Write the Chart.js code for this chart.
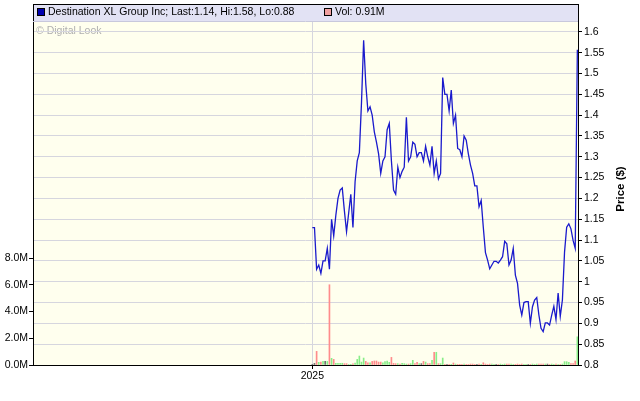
<!DOCTYPE html>
<html>
<head>
<meta charset="utf-8">
<script src="https://cdn.jsdelivr.net/npm/chart.js@4/dist/chart.umd.min.js"></script>
<style>
  html, body { margin: 0; padding: 0; background: #fff; }
  #wrap { width: 640px; height: 401px; }
</style>
</head>
<body>
<div id="wrap"><canvas id="grafico" width="640" height="401"></canvas></div>
<script>
// closing prices, one per trading day from the start of 2025
const precos = [
  1.13, 1.13, 1.03, 1.04, 1.02, 1.05, 1.05, 1.08, 1.03, 1.15,
  1.11, 1.16, 1.20, 1.22, 1.225, 1.17, 1.12, 1.165, 1.21, 1.13,
  1.24, 1.29, 1.31, 1.43, 1.58, 1.475, 1.41, 1.42, 1.40, 1.36,
  1.335, 1.307, 1.26, 1.29, 1.30, 1.365, 1.38, 1.29, 1.22, 1.21,
  1.275, 1.25, 1.265, 1.275, 1.395, 1.29, 1.30, 1.335, 1.33, 1.30,
  1.31, 1.31, 1.29, 1.325, 1.30, 1.28, 1.325, 1.26, 1.29, 1.247,
  1.26, 1.49, 1.45, 1.45, 1.41, 1.46, 1.38, 1.40, 1.32, 1.317,
  1.30, 1.35, 1.34, 1.307, 1.28, 1.26, 1.23, 1.23, 1.18, 1.195,
  1.13, 1.07, 1.052, 1.031, 1.04, 1.049, 1.049, 1.045, 1.052, 1.06,
  1.097, 1.091, 1.04, 1.052, 1.08, 1.016, 0.996, 0.944, 0.92, 0.95,
  0.952, 0.952, 0.90, 0.94, 0.956, 0.962, 0.92, 0.888, 0.88, 0.901,
  0.901, 0.896, 0.92, 0.941, 0.909, 0.973, 0.917, 0.956, 1.071, 1.131,
  1.139, 1.127, 1.099, 1.08, 1.557
];

// volume in millions of shares
const volumes = [
  0.05, 0.12, 1.02, 0.2, 0.22, 0.27, 0.27, 0.27, 6.0, 0.5,
  0.42, 0.13, 0.13, 0.13, 0.13, 0.1, 0.1, 0.03, 0.05, 0.08,
  0.15, 0.42, 0.67, 0.22, 0.52, 0.27, 0.17, 0.17, 0.27, 0.3,
  0.3, 0.22, 0.22, 0.17, 0.25, 0.3, 0.2, 0.57, 0.12, 0.1,
  0.1, 0.07, 0.12, 0.1, 0.07, 0.07, 0.1, 0.35, 0.1, 0.2,
  0.1, 0.1, 0.27, 0.22, 0.1, 0.1, 0.35, 0.95, 0.95, 0.1,
  0.1, 0.52, 0.03, 0.03, 0.03, 0.05, 0.15, 0.07, 0.05, 0.05,
  0.03, 0.07, 0.03, 0.03, 0.07, 0.07, 0.03, 0.03, 0.07, 0.03,
  0.17, 0.07, 0.03, 0.07, 0.07, 0.03, 0.05, 0.03, 0.07, 0.03,
  0.07, 0.07, 0.07, 0.07, 0.03, 0.03, 0.07, 0.03, 0.07, 0.03,
  0.03, 0.03, 0.03, 0.07, 0.03, 0.07, 0.07, 0.07, 0.07, 0.07,
  0.07, 0.03, 0.07, 0.03, 0.07, 0.03, 0.03, 0.07, 0.25, 0.25,
  0.2, 0.1, 0.1, 0.3, 2.1
];

const ticksPreco = [0.8, 0.85, 0.9, 0.95, 1, 1.05, 1.1, 1.15, 1.2, 1.25, 1.3, 1.35, 1.4, 1.45, 1.5, 1.55, 1.6];
const ticksVolume = [0, 2, 4, 6, 8];
const rotuloAno = '2025';

const legendaPreco = 'Destination XL Group Inc; Last:1.14, Hi:1.58, Lo:0.88';
const legendaVolume = 'Vol: 0.91M';

const fonte = { family: 'Liberation Sans, Arial, sans-serif', size: 10.5 };

// bar colour follows the day's move
function corVolume(i) {
  if (i === 0) return '#707070';
  const d = precos[i] - precos[i - 1];
  if (d > 0) return '#88ee88';
  if (d < 0) return '#ff8c8c';
  return '#707070';
}

// background, legend band, watermark and frame
const moldura = {
  id: 'moldura',
  beforeDraw(chart) {
    const { ctx, chartArea: a } = chart;
    ctx.save();
    ctx.fillStyle = '#ffffee';
    ctx.fillRect(a.left, a.top, a.right - a.left, a.bottom - a.top);
    ctx.fillStyle = '#e2e2f4';
    ctx.fillRect(a.left, 4, a.right - a.left, a.top - 4);
    ctx.font = '10.5px Liberation Sans, Arial, sans-serif';
    ctx.fillStyle = '#b0b0b0';
    ctx.textBaseline = 'middle';
    ctx.fillText('\u00a9 Digital Look', a.left + 3, 31);
    ctx.restore();
  },
  afterDraw(chart) {
    const { ctx, chartArea: a } = chart;
    ctx.save();
    ctx.strokeStyle = '#000';
    ctx.lineWidth = 1;
    ctx.strokeRect(Math.round(a.left) + 0.5, 4.5, Math.round(a.right - a.left), Math.round(a.bottom) - 4);
    ctx.beginPath();
    ctx.moveTo(a.left, Math.round(a.top) + 0.5);
    ctx.lineTo(a.right, Math.round(a.top) + 0.5);
    ctx.strokeStyle = '#c8c8dc';
    ctx.stroke();

    ctx.font = '10.5px Liberation Sans, Arial, sans-serif';
    ctx.textBaseline = 'middle';
    ctx.fillStyle = '#0000b0';
    ctx.fillRect(37, 8, 8, 8);
    ctx.strokeStyle = '#000';
    ctx.strokeRect(37.5, 8.5, 7, 7);
    ctx.fillStyle = '#000';
    ctx.fillText(legendaPreco, 48, 12.5);
    ctx.fillStyle = '#f0a0a0';
    ctx.fillRect(324, 8, 8, 8);
    ctx.strokeRect(324.5, 8.5, 7, 7);
    ctx.fillStyle = '#000';
    ctx.fillText(legendaVolume, 335, 12.5);

    // price axis title, reading upwards
    ctx.translate(621, 189);
    ctx.rotate(-Math.PI / 2);
    ctx.font = 'bold 11.5px Liberation Sans, Arial, sans-serif';
    ctx.textAlign = 'center';
    ctx.fillText('Price ($)', 0, 0);
    ctx.restore();
  }
};

new Chart(document.getElementById('grafico'), {
  data: {
    datasets: [
      {
        type: 'line',
        label: legendaPreco,
        data: precos.map((p, i) => ({ x: i, y: p })),
        yAxisID: 'y',
        borderColor: '#1a1acc',
        borderWidth: 1.3,
        pointRadius: 0,
        tension: 0,
        order: 1
      },
      {
        type: 'bar',
        label: legendaVolume,
        data: volumes.map((v, i) => ({ x: i, y: v * 1e6 })),
        yAxisID: 'yv',
        backgroundColor: volumes.map((v, i) => corVolume(i)),
        barThickness: 1,
        order: 2
      }
    ]
  },
  options: {
    responsive: false,
    animation: false,
    devicePixelRatio: 1,
    layout: { padding: { top: 21, left: 0, right: 0, bottom: 0 } },
    plugins: { legend: { display: false }, tooltip: { enabled: false } },
    scales: {
      x: {
        type: 'linear',
        offset: false,
        min: -130.7,
        max: 124.3,
        afterBuildTicks: s => { s.ticks = [{ value: 0 }]; },
        afterFit: s => { s.height = 36; },
        ticks: { callback: () => rotuloAno, font: fonte, color: '#000', padding: 1, maxRotation: 0, autoSkip: false },
        grid: { color: '#d6d6de', tickColor: '#000', tickLength: 4, offset: false },
        border: { color: '#000' }
      },
      y: {
        position: 'right',
        min: 0.8,
        max: 1.626,
        afterBuildTicks: s => { s.ticks = ticksPreco.map(v => ({ value: v })); },
        afterFit: s => { s.width = 62; },
        ticks: { callback: v => String(Math.round(v * 100) / 100), font: fonte, color: '#000', padding: 2 },
        grid: { color: '#d6d6de', tickColor: '#000', tickLength: 4 },
        border: { color: '#000' }
      },
      yv: {
        position: 'left',
        min: 0,
        max: 25.72e6,
        afterBuildTicks: s => { s.ticks = ticksVolume.map(v => ({ value: v * 1e6 })); },
        afterFit: s => { s.width = 33; },
        ticks: { callback: v => (v / 1e6).toFixed(1) + 'M', font: fonte, color: '#000', padding: 1 },
        grid: { drawOnChartArea: false, tickColor: '#000', tickLength: 4 },
        border: { color: '#000' }
      }
    }
  },
  plugins: [moldura]
});
</script>
</body>
</html>
